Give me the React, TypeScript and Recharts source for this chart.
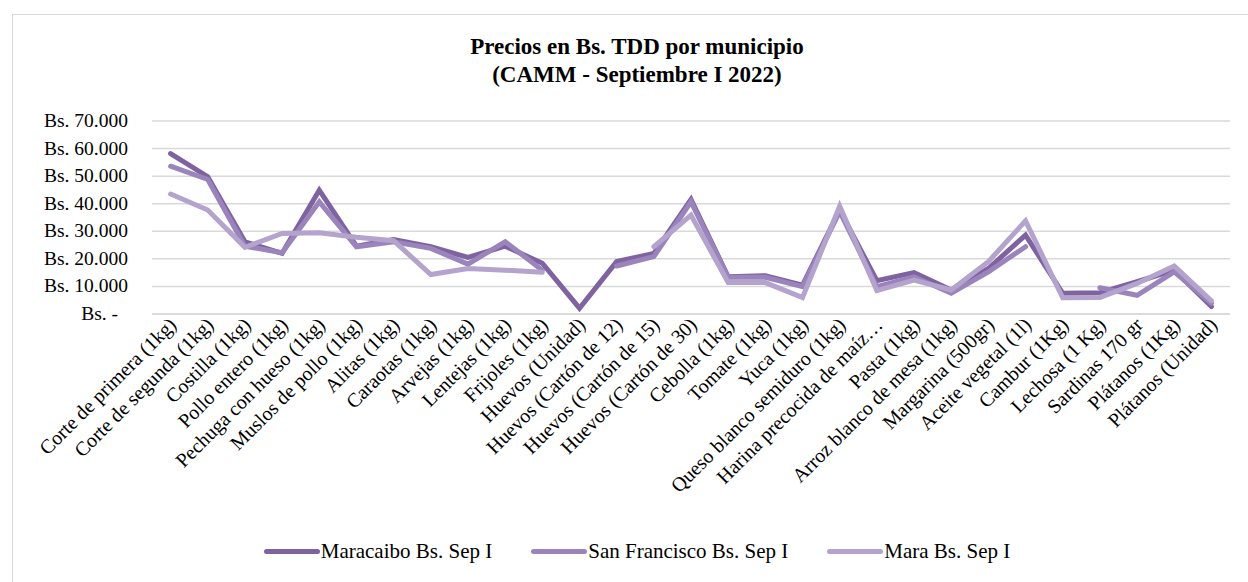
import React from 'react';
import { LineChart, Line, XAxis, YAxis, CartesianGrid } from 'recharts';

const categories = [
  'Corte de primera (1kg)',
  'Corte de segunda (1kg)',
  'Costilla (1kg)',
  'Pollo entero (1kg)',
  'Pechuga con hueso (1kg)',
  'Muslos de pollo (1kg)',
  'Alitas (1kg)',
  'Caraotas (1kg)',
  'Arvejas (1kg)',
  'Lentejas (1kg)',
  'Frijoles (1kg)',
  'Huevos (Unidad)',
  'Huevos (Cartón de 12)',
  'Huevos (Cartón de 15)',
  'Huevos (Cartón de 30)',
  'Cebolla (1kg)',
  'Tomate (1kg)',
  'Yuca (1kg)',
  'Queso blanco semiduro (1kg)',
  'Harina precocida de maíz…',
  'Pasta (1kg)',
  'Arroz blanco de mesa (1kg)',
  'Margarina (500gr)',
  'Aceite vegetal (1l)',
  'Cambur (1Kg)',
  'Lechosa (1 Kg)',
  'Sardinas 170 gr',
  'Plátanos (1Kg)',
  'Plátanos (Unidad)',
];

const maracaibo = [
  58200, 49800, 26200, 22000, 44900, 24600, 27000, 24400, 20500, 24600, 18400, 2100, 19000, 22000, 41500,
  13500, 13900, 10500, 37700, 12100, 15000, 8700, 16500, 28600, 7500, 7700, 11700, 15900, 2700,
];
const sanFrancisco = [
  53600, 48800, 24600, 22200, 40700, 24400, 26200, 23800, 18100, 26200, 15900, null, 17400, 20800, 40700,
  13300, 13300, 9900, 37100, 9900, 13500, 7500, 15300, 24400, null, 9500, 6800, 15300, 3900,
];
const mara = [
  43500, 37700, 24200, 29200, 29500, 27800, 26600, 14300, 16500, 15900, 15100, null, null, 24400, 35900,
  11400, 11400, 6000, 39100, 8500, 12300, 8700, 19000, 33800, 5900, 6000, 11100, 17400, 4800,
];

const yTicks = [0, 10000, 20000, 30000, 40000, 50000, 60000, 70000];

const series = [
  { key: 'maracaibo', name: 'Maracaibo Bs. Sep I', color: '#7f63a1' },
  { key: 'sanFrancisco', name: 'San Francisco Bs. Sep I', color: '#9a84bb' },
  { key: 'mara', name: 'Mara Bs. Sep I', color: '#b3a3cd' },
];

const data = categories.map((name, i) => ({
  name,
  maracaibo: maracaibo[i],
  sanFrancisco: sanFrancisco[i],
  mara: mara[i],
}));

const FONT = '"Liberation Serif", serif';

// half a category band, so points sit in the middle of each slot like Excel does
const HALF_BAND = 1078 / categories.length / 2;

const formatBs = (v: number) => (v === 0 ? 'Bs. -' : 'Bs. ' + v.toLocaleString('de-DE'));

const YTick = ({ x, y, payload }: any) => (
  <text
    x={payload.value === 0 ? x - 10 : x}
    y={y}
    dy={6}
    textAnchor="end"
    fontFamily={FONT}
    fontSize={19.5}
    fill="#000"
  >
    {formatBs(payload.value)}
  </text>
);

const XTick = ({ x, y, payload }: any) => (
  <g transform={`translate(${x + 7},${y + 4})`}>
    <text textAnchor="end" transform="rotate(-45)" fontFamily={FONT} fontSize={20} fill="#000">
      {payload.value}
    </text>
  </g>
);

const App = () => {
  return (
    <div>
      <style>{`body{margin:0;overflow:hidden;}`}</style>
      <div
        style={{
          position: 'absolute',
          left: 12,
          top: 14,
          width: 1248,
          height: 600,
          border: '1px solid #d9d9d9',
          background: '#fff',
          fontFamily: FONT,
        }}
      >
        <div
          style={{
            position: 'absolute',
            top: 18,
            left: 0,
            width: '100%',
            textAlign: 'center',
            fontWeight: 'bold',
            fontSize: 23,
            lineHeight: '28px',
            color: '#000',
          }}
        >
          Precios en Bs. TDD por municipio
          <br />
          (CAMM - Septiembre I 2022)
        </div>
        <div style={{ position: 'absolute', left: 0, top: 0 }}>
          <LineChart
            width={1236}
            height={568}
            data={data}
            margin={{ top: 106, right: 19, bottom: 0, left: 0 }}
          >
            <CartesianGrid vertical={false} stroke="#d9d9d9" strokeWidth={1.5} />
            <XAxis
              dataKey="name"
              interval={0}
              height={269}
              padding={{ left: HALF_BAND, right: HALF_BAND }}
              tick={<XTick />}
              tickLine={false}
              axisLine={{ stroke: '#d9d9d9', strokeWidth: 1.5 }}
            />
            <YAxis
              width={139}
              domain={[0, 70000]}
              ticks={yTicks}
              tick={<YTick />}
              tickLine={false}
              axisLine={false}
              tickMargin={18}
            />
            {series.map((s) => (
              <Line
                key={s.key}
                dataKey={s.key}
                name={s.name}
                stroke={s.color}
                strokeWidth={5}
                strokeLinecap="round"
                dot={false}
                activeDot={false}
                isAnimationActive={false}
              />
            ))}
          </LineChart>
        </div>
        <div
          style={{
            position: 'absolute',
            top: 524,
            left: 0,
            width: '100%',
            display: 'flex',
            justifyContent: 'center',
            gap: 39,
            fontSize: 21,
            color: '#000',
          }}
        >
          {series.map((s) => (
            <div key={s.key} style={{ display: 'flex', alignItems: 'center' }}>
              <span
                style={{
                  display: 'inline-block',
                  width: 56,
                  height: 5,
                  borderRadius: 3,
                  background: s.color,
                  marginRight: 1,
                }}
              />
              <span>{s.name}</span>
            </div>
          ))}
        </div>
      </div>
    </div>
  );
};

export default App;
